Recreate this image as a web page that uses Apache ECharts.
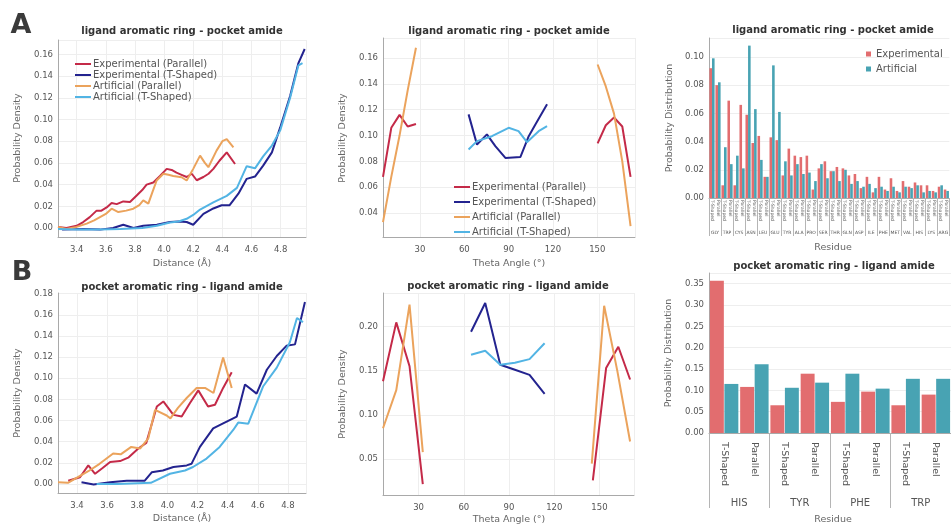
<!DOCTYPE html>
<html>
<head>
<meta charset="utf-8">
<script src="https://cdn.jsdelivr.net/npm/echarts@6/dist/echarts.min.js"></script>
<style>
  html, body { margin: 0; padding: 0; background: #ffffff; }
  #chart { width: 951px; height: 525px; }
</style>
</head>
<body>
<div id="chart"></div>
<script>
const FONT = 'DejaVu Sans';
const COLORS = {
  expPar: '#c42a48', expT: '#23238f', artPar: '#eba35c', artT: '#52b4e4',
  barExp: '#e26d6f', barArt: '#48a3b3'
};
const SERIES_NAMES = ['Experimental (Parallel)', 'Experimental (T-Shaped)', 'Artificial (Parallel)', 'Artificial (T-Shaped)'];

// ---- A: ligand aromatic ring - pocket amide, distance distribution [Å, density]
const a1ExpParallel = [[3.272,0.001],[3.33,0.000],[3.40,0.002],[3.445,0.0055],[3.49,0.010],[3.537,0.016],[3.57,0.016],[3.606,0.019],[3.64,0.023],[3.675,0.022],[3.72,0.0245],[3.766,0.024],[3.812,0.030],[3.85,0.035],[3.88,0.040],[3.926,0.042],[3.972,0.048],[4.018,0.0545],[4.052,0.0535],[4.085,0.051],[4.12,0.049],[4.155,0.047],[4.19,0.050],[4.224,0.044],[4.27,0.047],[4.305,0.050],[4.338,0.0545],[4.38,0.062],[4.43,0.0697],[4.487,0.059]];
const a1ExpTShaped = [[3.30,-0.0015],[3.45,-0.001],[3.56,-0.0015],[3.65,0.000],[3.72,0.003],[3.79,0.000],[3.857,0.002],[3.95,0.003],[4.04,0.0055],[4.10,0.006],[4.155,0.0055],[4.20,0.003],[4.27,0.013],[4.338,0.018],[4.395,0.021],[4.45,0.021],[4.51,0.0316],[4.567,0.0453],[4.624,0.0474],[4.68,0.0575],[4.74,0.0697],[4.797,0.0927],[4.865,0.1217],[4.922,0.152],[4.965,0.165]];
const a1ArtParallel = [[3.272,0.001],[3.33,-0.001],[3.40,0.001],[3.469,0.004],[3.52,0.007],[3.56,0.010],[3.60,0.013],[3.64,0.0178],[3.686,0.0147],[3.74,0.016],[3.789,0.0178],[3.83,0.021],[3.857,0.0254],[3.892,0.0224],[3.92,0.033],[3.949,0.0438],[3.995,0.050],[4.03,0.049],[4.063,0.048],[4.12,0.0468],[4.155,0.0438],[4.20,0.0545],[4.247,0.0667],[4.28,0.060],[4.304,0.056],[4.36,0.0713],[4.40,0.080],[4.43,0.082],[4.476,0.0743]];
const a1ArtTShaped = [[3.272,-0.001],[3.40,-0.0015],[3.55,-0.0015],[3.70,-0.001],[3.85,0.000],[3.95,0.002],[4.04,0.005],[4.10,0.006],[4.155,0.0085],[4.20,0.012],[4.247,0.017],[4.338,0.0236],[4.43,0.0296],[4.50,0.037],[4.567,0.057],[4.624,0.055],[4.68,0.066],[4.74,0.076],[4.797,0.090],[4.865,0.120],[4.922,0.150],[4.95,0.152]];

// ---- A: theta angle distribution [deg, density]
const a2ExpParallelLow = [[5,0.068],[10.6,0.106],[16.2,0.116],[21.7,0.107],[27.3,0.109]];
const a2ExpParallelHigh = [[150.2,0.094],[155.75,0.108],[161.3,0.114],[166.9,0.107],[172.5,0.068]];
const a2ExpTShaped = [[62.9,0.1164],[68.6,0.093],[75.3,0.1009],[81,0.0918],[87.8,0.0827],[98,0.0835],[103.6,0.0995],[108.1,0.1086],[116,0.1242]];
const a2ArtParallelLow = [[5,0.033],[10.6,0.068],[16.2,0.100],[21.7,0.135],[27.3,0.168]];
const a2ArtParallelHigh = [[150.2,0.155],[155.75,0.138],[161.3,0.117],[166.9,0.080],[172.5,0.030]];
const a2ArtTShaped = [[62.9,0.0892],[68.6,0.0957],[78.7,0.0995],[90,0.106],[96.7,0.1034],[102.4,0.0949],[110.3,0.1034],[116,0.1073]];

// ---- A: residue distribution
const a3Residues = ['GLY','TRP','CYS','ASN','LEU','GLU','TYR','ALA','PRO','SER','THR','GLN','ASP','ILE','PHE','MET','VAL','HIS','LYS','ARG'];
const a3Geometries = ['T-Shaped','Parallel'];
const a3Experimental = [0.092,0.080,0.009,0.069,0.009,0.066,0.059,0.039,0.044,0.015,0.043,0.041,0.016,0.035,0.030,0.029,0.030,0.006,0.021,0.026,0.019,0.022,0.021,0.016,0.017,0.007,0.015,0.004,0.015,0.006,0.014,0.005,0.012,0.008,0.011,0.009,0.009,0.005,0.008,0.006];
const a3Artificial = [0.099,0.082,0.036,0.024,0.030,0.021,0.108,0.063,0.027,0.015,0.094,0.061,0.026,0.016,0.024,0.017,0.018,0.012,0.024,0.014,0.019,0.012,0.020,0.010,0.012,0.008,0.010,0.007,0.008,0.005,0.008,0.004,0.008,0.007,0.009,0.004,0.005,0.004,0.009,0.005];

// ---- B: pocket aromatic ring - ligand amide, distance distribution
const b1ExpParallel = [[3.342,0.003],[3.42,0.0063],[3.475,0.0175],[3.52,0.0096],[3.57,0.015],[3.62,0.0207],[3.686,0.0216],[3.74,0.0248],[3.807,0.0335],[3.86,0.0388],[3.93,0.0732],[3.973,0.078],[4.04,0.0653],[4.095,0.0637],[4.15,0.0765],[4.205,0.0885],[4.27,0.0732],[4.316,0.0749],[4.37,0.0908],[4.427,0.1057]];
const b1ExpTShaped = [[3.43,0.0015],[3.51,-0.0005],[3.62,0.0015],[3.73,0.003],[3.81,0.003],[3.85,0.003],[3.896,0.011],[3.97,0.0127],[4.04,0.016],[4.128,0.0175],[4.16,0.019],[4.216,0.035],[4.304,0.0525],[4.37,0.0573],[4.437,0.062],[4.46,0.0636],[4.515,0.094],[4.592,0.0854],[4.66,0.108],[4.726,0.121],[4.79,0.1306],[4.847,0.132],[4.913,0.172]];
const b1ArtParallel = [[3.274,0.0015],[3.34,0.001],[3.40,0.006],[3.475,0.012],[3.55,0.019],[3.64,0.0287],[3.69,0.028],[3.76,0.035],[3.82,0.0335],[3.873,0.043],[3.918,0.070],[3.995,0.0647],[4.02,0.062],[4.07,0.072],[4.128,0.0813],[4.194,0.0908],[4.25,0.0908],[4.306,0.086],[4.37,0.1195],[4.427,0.0908]];
const b1ArtTShaped = [[3.53,0.000],[3.67,0.000],[3.89,0.001],[4.017,0.0096],[4.117,0.0127],[4.17,0.016],[4.26,0.024],[4.347,0.035],[4.437,0.051],[4.47,0.058],[4.537,0.057],[4.636,0.0924],[4.726,0.110],[4.813,0.134],[4.86,0.157],[4.90,0.153]];

// ---- B: theta angle distribution
const b2ExpParallelLow = [[6.4,0.138],[15.2,0.2045],[24,0.155],[32.8,0.022]];
const b2ExpParallelHigh = [[145.6,0.026],[154.4,0.153],[162.5,0.177],[170.3,0.140]];
const b2ExpTShaped = [[64.8,0.194],[74.2,0.2264],[84.2,0.1566],[93.9,0.151],[103.6,0.1453],[113.6,0.1238]];
const b2ArtParallelLow = [[6.4,0.085],[15.2,0.128],[24,0.2245],[32.8,0.058]];
const b2ArtParallelHigh = [[144.9,0.045],[153.1,0.2233],[161.8,0.150],[170.3,0.070]];
const b2ArtTShaped = [[64.8,0.168],[74.2,0.1725],[84.2,0.1566],[93.9,0.159],[103.6,0.163],[113.6,0.181]];

// ---- B: residue distribution
const b3Residues = ['HIS','TYR','PHE','TRP'];
const b3Geometries = ['T-Shaped','Parallel'];
const b3Experimental = [0.357,0.108,0.065,0.139,0.073,0.097,0.065,0.090];
const b3Artificial = [0.115,0.161,0.106,0.118,0.139,0.104,0.127,0.127];

// category keys "RES|Geometry" for the two-level residue axes
function pairedCategories(residues, geometries) {
  const out = [];
  residues.forEach(r => geometries.forEach(g => out.push(r + '|' + g)));
  return out;
}
const a3Categories = pairedCategories(a3Residues, a3Geometries);
const b3Categories = pairedCategories(b3Residues, b3Geometries);

const AXIS_GREY = '#a9a9a9';
const GRID_GREY = '#eeeeee';
const TICK_FONT = 8.5;

function valueAxis(gridIndex, min, max, splitNumber, digits, opts) {
  opts = opts || {};
  return {
    type: 'value', gridIndex, min, max, splitNumber,
    interval: opts.interval,
    axisLine: { show: true, onZero: false, lineStyle: { color: AXIS_GREY, width: 1 } },
    axisTick: { show: false },
    splitLine: { show: opts.split !== false, lineStyle: { color: GRID_GREY, width: 1 } },
    axisLabel: {
      showMinLabel: opts.showMin === true,
      showMaxLabel: false,
      fontSize: TICK_FONT, color: '#555', fontFamily: FONT,
      margin: opts.margin != null ? opts.margin : 5,
      formatter: v => v.toFixed(digits)
    }
  };
}

function subAxis(gridIndex, data, fontSize, margin) {
  return {
    type: 'category', gridIndex, data, position: 'bottom',
    axisLine: { show: true, onZero: false, lineStyle: { color: AXIS_GREY } },
    axisTick: { show: false },
    splitLine: { show: false },
    axisLabel: {
      interval: 0, rotate: -90, fontSize, margin, color: '#555', fontFamily: FONT,
      formatter: v => v.split('|')[1]
    }
  };
}

function groupAxis(gridIndex, data, fontSize, margin, tickLength) {
  return {
    type: 'category', gridIndex, data, position: 'bottom',
    axisLine: { show: false },
    axisTick: { show: true, interval: 0, length: tickLength, lineStyle: { color: '#b5b5b5' } },
    splitLine: { show: false },
    axisLabel: { interval: 0, fontSize, margin, color: '#555', fontFamily: FONT }
  };
}

function line(nameIdx, data, xi, yi, color) {
  return {
    type: 'line', name: SERIES_NAMES[nameIdx], data, xAxisIndex: xi, yAxisIndex: yi,
    symbol: 'none', showSymbol: false, smooth: false,
    lineStyle: { width: 2, color }, itemStyle: { color }, z: 2 + nameIdx
  };
}

function bars(name, data, xi, yi, color, barGap, barCategoryGap) {
  return {
    type: 'bar', name, data, xAxisIndex: xi, yAxisIndex: yi,
    itemStyle: { color }, barGap, barCategoryGap
  };
}

function label(text, x, y, size, opts) {
  opts = opts || {};
  return {
    type: 'text', x, y, rotation: opts.rotation || 0, silent: true,
    style: {
      text, x: 0, y: 0,
      fill: opts.color || '#666',
      font: (opts.bold ? 'bold ' : '') + size + 'px "' + FONT + '"',
      textAlign: 'center', align: 'center',
      textVerticalAlign: 'middle', verticalAlign: 'middle'
    }
  };
}

const titleA = 'ligand aromatic ring - pocket amide';
const titleB = 'pocket aromatic ring - ligand amide';

const option = {
  animation: false,
  backgroundColor: '#ffffff',
  textStyle: { fontFamily: FONT },
  grid: [
    { left: 58,  top: 40,  width: 248, height: 197 },
    { left: 383, top: 38,  width: 252, height: 199 },
    { left: 709, top: 38,  width: 248, height: 160 },
    { left: 58,  top: 293, width: 248, height: 200 },
    { left: 383, top: 293, width: 251, height: 202 },
    { left: 709, top: 273, width: 248, height: 160 }
  ],
  xAxis: [
    Object.assign(valueAxis(0, 3.272, 4.974, 8, 1, { margin: 8 })),
    Object.assign(valueAxis(1, 5, 175.5, 6, 0, { margin: 8 })),
    subAxis(2, a3Categories, 4.5, 2),
    groupAxis(2, a3Residues, 4.5, 32, 38),
    Object.assign(valueAxis(3, 3.274, 4.92, 8, 1, { margin: 8 })),
    Object.assign(valueAxis(4, 6.4, 172.9, 6, 0, { margin: 8 })),
    subAxis(5, b3Categories, 9.5, 9),
    groupAxis(5, b3Residues, 10, 65, 75)
  ],
  yAxis: [
    valueAxis(0, -0.0083, 0.1733, 9, 2),
    valueAxis(1, 0.0215, 0.1755, 8, 2),
    valueAxis(2, 0, 0.1134, null, 2, { interval: 0.02, showMin: true }),
    valueAxis(3, -0.0086, 0.1806, 9, 2),
    valueAxis(4, 0.0096, 0.2377, 5, 2),
    valueAxis(5, 0, 0.375, null, 2, { interval: 0.05, showMin: true })
  ],
  legend: [
    {
      data: SERIES_NAMES, orient: 'vertical', left: 70, top: 54,
      icon: 'rect', itemWidth: 16, itemHeight: 2, itemGap: 1,
      textStyle: { fontSize: 10, color: '#555', fontFamily: FONT, padding: [0, 0, 0, -3] }
    },
    {
      data: SERIES_NAMES, orient: 'vertical', left: 449, top: 177,
      icon: 'rect', itemWidth: 16, itemHeight: 2, itemGap: 5,
      textStyle: { fontSize: 10, color: '#555', fontFamily: FONT, padding: [0, 0, 0, -3] }
    },
    {
      data: ['Experimental', 'Artificial'], orient: 'vertical', left: 861, top: 44,
      icon: 'rect', itemWidth: 5, itemHeight: 5, itemGap: 5,
      textStyle: { fontSize: 10, color: '#555', fontFamily: FONT }
    }
  ],
  series: [
    line(0, a1ExpParallel, 0, 0, COLORS.expPar),
    line(1, a1ExpTShaped, 0, 0, COLORS.expT),
    line(2, a1ArtParallel, 0, 0, COLORS.artPar),
    line(3, a1ArtTShaped, 0, 0, COLORS.artT),

    line(0, a2ExpParallelLow, 1, 1, COLORS.expPar),
    line(0, a2ExpParallelHigh, 1, 1, COLORS.expPar),
    line(1, a2ExpTShaped, 1, 1, COLORS.expT),
    line(2, a2ArtParallelLow, 1, 1, COLORS.artPar),
    line(2, a2ArtParallelHigh, 1, 1, COLORS.artPar),
    line(3, a2ArtTShaped, 1, 1, COLORS.artT),

    bars('Experimental', a3Experimental, 2, 2, COLORS.barExp, '0%', '14%'),
    bars('Artificial', a3Artificial, 2, 2, COLORS.barArt, '0%', '14%'),

    line(0, b1ExpParallel, 4, 3, COLORS.expPar),
    line(1, b1ExpTShaped, 4, 3, COLORS.expT),
    line(2, b1ArtParallel, 4, 3, COLORS.artPar),
    line(3, b1ArtTShaped, 4, 3, COLORS.artT),

    line(0, b2ExpParallelLow, 5, 4, COLORS.expPar),
    line(0, b2ExpParallelHigh, 5, 4, COLORS.expPar),
    line(1, b2ExpTShaped, 5, 4, COLORS.expT),
    line(2, b2ArtParallelLow, 5, 4, COLORS.artPar),
    line(2, b2ArtParallelHigh, 5, 4, COLORS.artPar),
    line(3, b2ArtTShaped, 5, 4, COLORS.artT),

    bars('Experimental', b3Experimental, 6, 5, COLORS.barExp, '4%', '6%'),
    bars('Artificial', b3Artificial, 6, 5, COLORS.barArt, '4%', '6%')
  ],
  graphic: [
    label('A', 21, 26, 27, { bold: true, color: '#3a3a3a' }),
    label('B', 22, 273, 27, { bold: true, color: '#3a3a3a' }),
    label(titleA, 182, 31, 10, { bold: true, color: '#333' }),
    label(titleA, 509, 31, 10, { bold: true, color: '#333' }),
    label(titleA, 833, 30, 10, { bold: true, color: '#333' }),
    label(titleB, 182, 287, 10, { bold: true, color: '#333' }),
    label(titleB, 508, 286, 10, { bold: true, color: '#333' }),
    label(titleB, 834, 266, 10, { bold: true, color: '#333' }),
    label('Distance (Å)', 182, 264, 9.5),
    label('Distance (Å)', 182, 519, 9.5),
    label('Theta Angle (°)', 509, 264, 9.5),
    label('Theta Angle (°)', 509, 520, 9.5),
    label('Residue', 833, 248, 9.5),
    label('Residue', 833, 520, 9.5),
    label('Probability Density', 18, 138, 9.5, { rotation: Math.PI / 2 }),
    label('Probability Density', 18, 393, 9.5, { rotation: Math.PI / 2 }),
    label('Probability Density', 343, 138, 9.5, { rotation: Math.PI / 2 }),
    label('Probability Density', 343, 394, 9.5, { rotation: Math.PI / 2 }),
    label('Probability Distribution', 670, 118, 9.5, { rotation: Math.PI / 2 }),
    label('Probability Distribution', 669, 353, 9.5, { rotation: Math.PI / 2 })
  ]
};

const chart = echarts.init(document.getElementById('chart'), null, { renderer: 'canvas' });
chart.setOption(option);
</script>
</body>
</html>
